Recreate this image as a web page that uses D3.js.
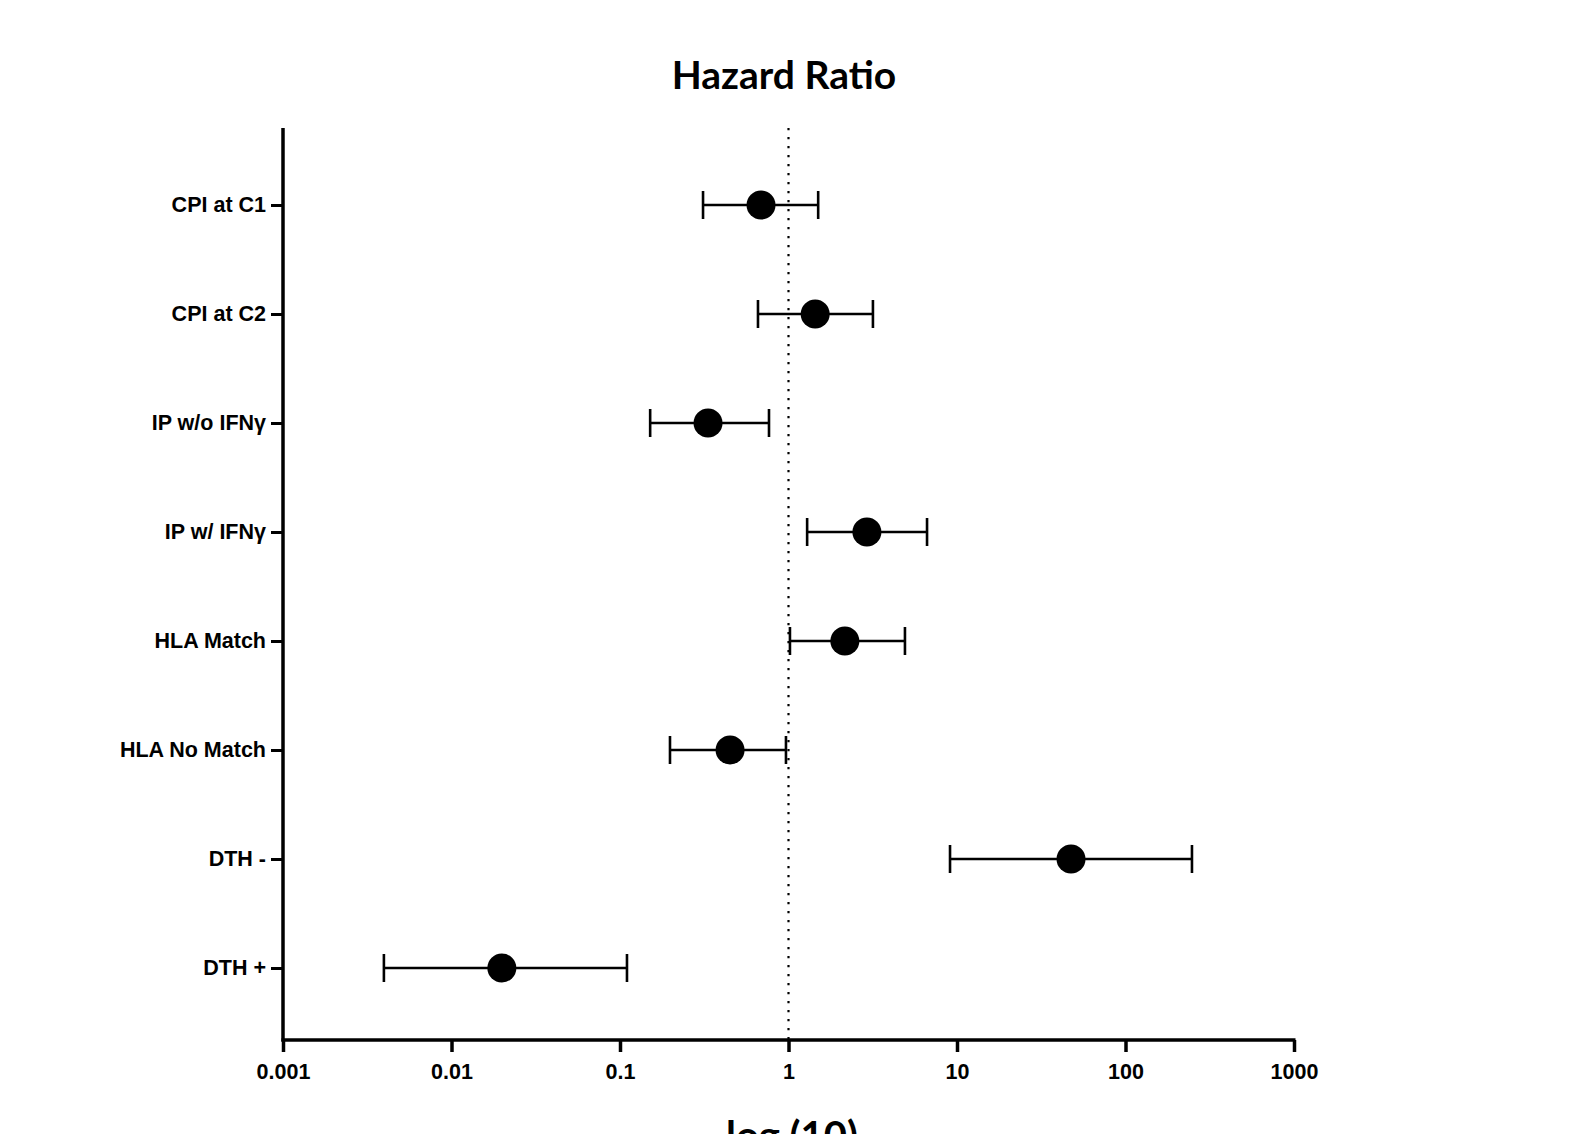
<!DOCTYPE html>
<html><head><meta charset="utf-8">
<script src="https://cdn.jsdelivr.net/npm/d3@7"></script>
<style>body{margin:0;background:#fff}svg{display:block}</style>
</head><body>
<svg id="c" width="1569" height="1134"></svg>
<script>
const categories = ["CPI at C1","CPI at C2","IP w/o IFNγ","IP w/ IFNγ","HLA Match","HLA No Match","DTH -","DTH +"];
const hazardRatio = [0.687, 1.44, 0.333, 2.92, 2.16, 0.45, 47.5, 0.0199];
const ciLower = [0.311, 0.659, 0.151, 1.29, 1.02, 0.198, 9.09, 0.00397];
const ciUpper = [1.50, 3.17, 0.766, 6.64, 4.91, 0.966, 248, 0.110];
const xTicks = [0.001, 0.01, 0.1, 1, 10, 100, 1000];
const xTickLabels = ["0.001","0.01","0.1","1","10","100","1000"];
const refValue = 1;

(function(){
const svg = d3.select("#c");
const pl = 283, pr = 1294, pt = 128, pb = 1040;
const x = d3.scaleLog().domain([0.001, 1000]).range([pl, pr]);
const y = d3.scalePoint().domain(categories).range([205, 968]);

svg.append("text").attr("x", 784).attr("y", 89).attr("text-anchor","middle")
  .style("font-family","Lato, 'Open Sans', sans-serif").style("font-weight","bold").style("font-size","39px")
  .text("Hazard Ratio");
svg.append("text").attr("x", 792).attr("y", 1150).attr("text-anchor","middle")
  .style("font-family","Lato, 'Open Sans', sans-serif").style("font-weight","bold").style("font-size","40px")
  .text("log (10)");

svg.append("line").attr("x1", x(refValue)).attr("x2", x(refValue)).attr("y1", pt).attr("y2", pb)
  .attr("stroke","#000").attr("stroke-width",2.2).attr("stroke-dasharray","2.2,6.8");

const xAxis = d3.axisBottom(x).tickValues(xTicks).tickFormat((d,i)=>xTickLabels[i]).tickSize(12).tickSizeOuter(0);
const gx = svg.append("g").attr("transform", `translate(0,${pb})`).call(xAxis);
gx.select(".domain").attr("stroke-width",3.5).attr("d", `M${pl-1.5},0H${pr+1.5}`);
gx.selectAll(".tick line").attr("stroke-width",3.5);
gx.selectAll(".tick text").attr("dy", "1.05em").attr("y", 16)
  .style("font-family","'Liberation Sans', Arial, sans-serif").style("font-weight","bold").style("font-size","21.5px").attr("fill","#000");

const yAxis = d3.axisLeft(y).tickSize(12).tickSizeOuter(0);
const gy = svg.append("g").attr("transform", `translate(${pl},0)`).call(yAxis);
gy.select(".domain").attr("stroke-width",3.5).attr("d", `M0,${pt}V${pb+1.5}`);
gy.selectAll(".tick line").attr("stroke-width",3);
gy.selectAll(".tick text").attr("x", -17)
  .style("font-family","'Liberation Sans', Arial, sans-serif").style("font-weight","bold").style("font-size","21.5px").attr("fill","#000");

const rows = categories.map((c,i)=>({c, hr:hazardRatio[i], lo:ciLower[i], hi:ciUpper[i]}));
const g = svg.append("g");
g.selectAll(".bar").data(rows).join("line").attr("class","bar")
  .attr("x1", d=>x(d.lo)).attr("x2", d=>x(d.hi)).attr("y1", d=>y(d.c)).attr("y2", d=>y(d.c))
  .attr("stroke","#000").attr("stroke-width",2.6);
g.selectAll(".capL").data(rows).join("line").attr("class","capL")
  .attr("x1", d=>x(d.lo)).attr("x2", d=>x(d.lo)).attr("y1", d=>y(d.c)-14).attr("y2", d=>y(d.c)+14)
  .attr("stroke","#000").attr("stroke-width",2.6);
g.selectAll(".capR").data(rows).join("line").attr("class","capR")
  .attr("x1", d=>x(d.hi)).attr("x2", d=>x(d.hi)).attr("y1", d=>y(d.c)-14).attr("y2", d=>y(d.c)+14)
  .attr("stroke","#000").attr("stroke-width",2.6);
g.selectAll("circle").data(rows).join("circle")
  .attr("cx", d=>x(d.hr)).attr("cy", d=>y(d.c)).attr("r", 14.5).attr("fill","#000");
})();
</script>
</body></html>
